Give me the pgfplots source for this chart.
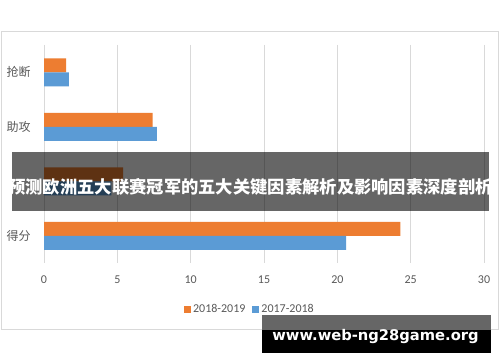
\documentclass[border=0pt]{standalone}
\usepackage{pgfplots}
\pgfplotsset{compat=1.18}
\usepackage{fontspec}
\setmainfont{Carlito}
\newfontfamily\cjk{Noto Sans CJK SC}
\newfontfamily\wm{DejaVu Sans}
\definecolor{orangeS}{HTML}{ED7D31}
\definecolor{blueS}{HTML}{5B9BD5}
\definecolor{gridc}{HTML}{D9D9D9}
\definecolor{txt}{HTML}{595959}
\begin{document}
\begin{tikzpicture}[x=1bp,y=1bp]
\useasboundingbox (0,0) rectangle (500,362);
\fill[white] (0,0) rectangle (500,362);
\draw[gridc, line width=1bp] (1.5,33) rectangle (498.5,331);
\begin{axis}[
  at={(44bp,99bp)}, anchor=south west,
  scale only axis, width=440bp, height=218bp,
  xbar, xmin=0, xmax=30, ymin=-0.5, ymax=3.5, y dir=reverse,
  ytick={0,1,2,3},
  yticklabels={抢断,助攻,{},得分},
  xtick={0,5,...,30},
  axis line style={draw=none},
  xmajorgrids, grid style={gridc, line width=0.9bp},
  major tick style={draw=none},
  /pgf/number format/assume math mode=true,
  ticklabel style={font=\fontsize{12bp}{14bp}\selectfont, text=txt},
  yticklabel style={font=\cjk\fontsize{12bp}{14bp}\selectfont, inner sep=0pt, anchor=east, xshift=-9bp},
  xticklabel style={anchor=center, yshift=-17bp},
  bar width=14bp,
  legend style={at={(0.468,-0.211)}, anchor=center, draw=none, fill=none,
    font=\fontsize{12bp}{14bp}\selectfont, text=txt, legend columns=2,
    /tikz/every even column/.append style={column sep=5bp},
    inner sep=0pt},
  legend image code/.code={\fill[#1] (0bp,-3.5bp) rectangle (7bp,3.5bp);},
]
\addplot[fill=orangeS, draw=none, bar shift=7bp] coordinates {(1.5,0) (7.4,1) (5.4,2) (24.3,3)};
\addplot[fill=blueS, draw=none, bar shift=-7bp] coordinates {(1.7,0) (7.7,1) (4.6,2) (20.6,3)};
\legend{2018-2019,2017-2018}
\end{axis}
\fill[black, opacity=0.6] (12,151) rectangle (489,210);
\node[text=white, inner sep=0pt, font=\cjk\bfseries\fontsize{17.3bp}{20bp}\selectfont] at (250.5,175.3) {预测欧洲五大联赛冠军的五大关键因素解析及影响因素深度剖析};
\fill[black!60] (262,32) rectangle (491,47);
\fill[black] (262,9.3) rectangle (491,32);
\node[text=white, inner sep=0pt, font=\wm\bfseries\fontsize{14.7bp}{17bp}\selectfont] at (375.5,25.3) {www.web-ng28game.org};
\end{tikzpicture}
\end{document}
